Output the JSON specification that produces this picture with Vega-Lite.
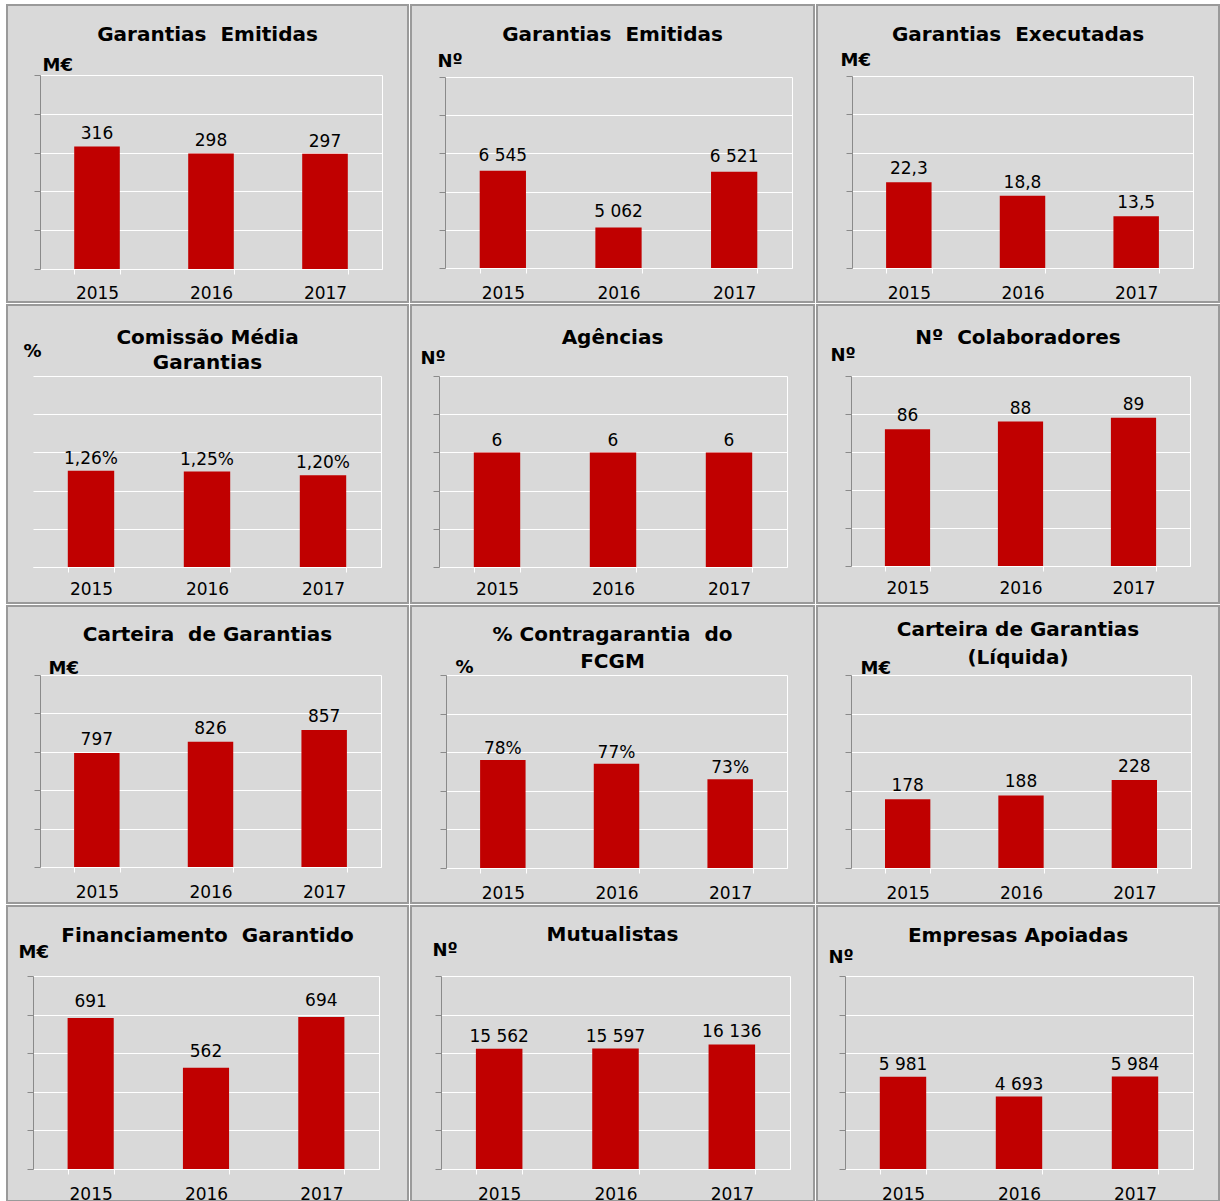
{
  "$schema": "https://vega.github.io/schema/vega-lite/v6.json",
  "background": "white",
  "padding": {"left": 6, "top": 4, "right": 0, "bottom": 0},
  "columns": 3,
  "spacing": 3,
  "bounds": "flush",
  "datasets": {
    "kpi": [
      {"panel": "P1", "year": "2015", "value": 316},
      {"panel": "P1", "year": "2016", "value": 298},
      {"panel": "P1", "year": "2017", "value": 297},
      {"panel": "P2", "year": "2015", "value": 6545},
      {"panel": "P2", "year": "2016", "value": 5062},
      {"panel": "P2", "year": "2017", "value": 6521},
      {"panel": "P3", "year": "2015", "value": 22.3},
      {"panel": "P3", "year": "2016", "value": 18.8},
      {"panel": "P3", "year": "2017", "value": 13.5},
      {"panel": "P4", "year": "2015", "value": 0.0126},
      {"panel": "P4", "year": "2016", "value": 0.0125},
      {"panel": "P4", "year": "2017", "value": 0.012},
      {"panel": "P5", "year": "2015", "value": 6},
      {"panel": "P5", "year": "2016", "value": 6},
      {"panel": "P5", "year": "2017", "value": 6},
      {"panel": "P6", "year": "2015", "value": 86},
      {"panel": "P6", "year": "2016", "value": 88},
      {"panel": "P6", "year": "2017", "value": 89},
      {"panel": "P7", "year": "2015", "value": 797},
      {"panel": "P7", "year": "2016", "value": 826},
      {"panel": "P7", "year": "2017", "value": 857},
      {"panel": "P8", "year": "2015", "value": 0.78},
      {"panel": "P8", "year": "2016", "value": 0.77},
      {"panel": "P8", "year": "2017", "value": 0.73},
      {"panel": "P9", "year": "2015", "value": 178},
      {"panel": "P9", "year": "2016", "value": 188},
      {"panel": "P9", "year": "2017", "value": 228},
      {"panel": "P10", "year": "2015", "value": 691},
      {"panel": "P10", "year": "2016", "value": 562},
      {"panel": "P10", "year": "2017", "value": 694},
      {"panel": "P11", "year": "2015", "value": 15562},
      {"panel": "P11", "year": "2016", "value": 15597},
      {"panel": "P11", "year": "2017", "value": 16136},
      {"panel": "P12", "year": "2015", "value": 5981},
      {"panel": "P12", "year": "2016", "value": 4693},
      {"panel": "P12", "year": "2017", "value": 5984}
    ]
  },
  "data": {"name": "kpi"},
  "concat": [
    {
      "width": 401, "height": 297,
      "title": {"text": "Garantias\u00a0 Emitidas", "offset": -40},
      "transform": [{"filter": "datum.panel == 'P1'"}],
      "encoding": {"x": {"field": "year", "type": "ordinal", "title": null, "scale": {"range": [33, 375], "paddingInner": 0.6, "paddingOuter": 0.3}, "axis": {"offset": -33, "labelPadding": 24}}},
      "layer": [
        {"mark": {"type": "bar"}, "encoding": {"y": {"field": "value", "type": "quantitative", "scale": {"domain": [0, 500], "range": [264, 70], "nice": false, "zero": false}, "axis": {"orient": "left", "offset": -33, "values": [0, 100, 200, 300, 400, 500], "title": "M€", "titleX": 2, "titleY": 65}}, "y2": {"datum": 0}}},
        {"mark": {"type": "text", "dy": -7}, "encoding": {"y": {"field": "value", "type": "quantitative", "axis": {"orient": "right", "offset": -26, "domainColor": "white", "ticks": false, "grid": false, "labels": false, "title": null}}, "text": {"field": "value", "format": ".0f"}}}
      ],
      "resolve": {"axis": {"y": "independent"}}
    },
    {
      "width": 403, "height": 297,
      "title": {"text": "Garantias\u00a0 Emitidas", "offset": -40},
      "transform": [{"filter": "datum.panel == 'P2'"}],
      "encoding": {"x": {"field": "year", "type": "ordinal", "title": null, "scale": {"range": [34, 381], "paddingInner": 0.6, "paddingOuter": 0.3}, "axis": {"offset": -34, "labelPadding": 25}}},
      "layer": [
        {"mark": {"type": "bar"}, "encoding": {"y": {"field": "value", "type": "quantitative", "scale": {"domain": [4000, 9000], "range": [263, 72], "nice": false, "zero": false}, "axis": {"orient": "left", "offset": -34, "values": [4000, 5000, 6000, 7000, 8000, 9000], "title": "Nº", "titleX": -8, "titleY": 61}}, "y2": {"datum": 4000}}},
        {"mark": {"type": "text", "dy": -10}, "encoding": {"y": {"field": "value", "type": "quantitative", "axis": {"orient": "right", "offset": -22, "domainColor": "white", "ticks": false, "grid": false, "labels": false, "title": null}}, "text": {"field": "value", "format": ",.0f"}}}
      ],
      "resolve": {"axis": {"y": "independent"}}
    },
    {
      "width": 402, "height": 297,
      "title": {"text": "Garantias\u00a0 Executadas", "offset": -40},
      "transform": [{"filter": "datum.panel == 'P3'"}],
      "encoding": {"x": {"field": "year", "type": "ordinal", "title": null, "scale": {"range": [35, 376], "paddingInner": 0.6, "paddingOuter": 0.3}, "axis": {"offset": -34, "labelPadding": 25}}},
      "layer": [
        {"mark": {"type": "bar"}, "encoding": {"y": {"field": "value", "type": "quantitative", "scale": {"domain": [0, 50], "range": [263, 71], "nice": false, "zero": false}, "axis": {"orient": "left", "offset": -35, "values": [0, 10, 20, 30, 40, 50], "title": "M€", "titleX": -12, "titleY": 60}}, "y2": {"datum": 0}}},
        {"mark": {"type": "text", "dy": -8}, "encoding": {"y": {"field": "value", "type": "quantitative", "axis": {"orient": "right", "offset": -26, "domainColor": "white", "ticks": false, "grid": false, "labels": false, "title": null}}, "text": {"field": "value", "format": ".1f"}}}
      ],
      "resolve": {"axis": {"y": "independent"}}
    },
    {
      "width": 401, "height": 298,
      "title": {"text": ["Comissão Média", "Garantias"], "offset": -68, "lineHeight": 25},
      "transform": [{"filter": "datum.panel == 'P4'"}],
      "encoding": {"x": {"field": "year", "type": "ordinal", "title": null, "scale": {"range": [26, 374], "paddingInner": 0.6, "paddingOuter": 0.3}, "axis": {"offset": -36, "labelPadding": 22}}},
      "layer": [
        {"mark": {"type": "bar"}, "encoding": {"y": {"field": "value", "type": "quantitative", "scale": {"domain": [0, 0.025], "range": [262, 71], "nice": false, "zero": false}, "axis": {"orient": "left", "offset": -26, "domain": false, "ticks": false, "values": [0, 0.005, 0.01, 0.015, 0.02, 0.025], "title": "%", "titleX": -10, "titleY": 51}}, "y2": {"datum": 0}}},
        {"mark": {"type": "text", "dy": -7}, "encoding": {"y": {"field": "value", "type": "quantitative", "axis": {"orient": "right", "offset": -27, "domainColor": "white", "ticks": false, "grid": false, "labels": false, "title": null}}, "text": {"field": "value", "format": ".2%"}}}
      ],
      "resolve": {"axis": {"y": "independent"}}
    },
    {
      "width": 403, "height": 298,
      "title": {"text": "Agências", "offset": -43},
      "transform": [{"filter": "datum.panel == 'P5'"}],
      "encoding": {"x": {"field": "year", "type": "ordinal", "title": null, "scale": {"range": [28, 376], "paddingInner": 0.6, "paddingOuter": 0.3}, "axis": {"offset": -36, "labelPadding": 22}}},
      "layer": [
        {"mark": {"type": "bar"}, "encoding": {"y": {"field": "value", "type": "quantitative", "scale": {"domain": [0, 10], "range": [262, 71], "nice": false, "zero": false}, "axis": {"orient": "left", "offset": -28, "values": [0, 2, 4, 6, 8, 10], "title": "Nº", "titleX": -19, "titleY": 58}}, "y2": {"datum": 0}}},
        {"mark": {"type": "text", "dy": -6}, "encoding": {"y": {"field": "value", "type": "quantitative", "axis": {"orient": "right", "offset": -27, "domainColor": "white", "ticks": false, "grid": false, "labels": false, "title": null}}, "text": {"field": "value", "format": ".0f"}}}
      ],
      "resolve": {"axis": {"y": "independent"}}
    },
    {
      "width": 402, "height": 298,
      "title": {"text": "Nº\u00a0 Colaboradores", "offset": -43},
      "transform": [{"filter": "datum.panel == 'P6'"}],
      "encoding": {"x": {"field": "year", "type": "ordinal", "title": null, "scale": {"range": [34, 373], "paddingInner": 0.6, "paddingOuter": 0.3}, "axis": {"offset": -37, "labelPadding": 22}}},
      "layer": [
        {"mark": {"type": "bar"}, "encoding": {"y": {"field": "value", "type": "quantitative", "scale": {"domain": [50, 100], "range": [261, 71], "nice": false, "zero": false}, "axis": {"orient": "left", "offset": -34, "values": [50, 60, 70, 80, 90, 100], "title": "Nº", "titleX": -21, "titleY": 55}}, "y2": {"datum": 50}}},
        {"mark": {"type": "text", "dy": -8}, "encoding": {"y": {"field": "value", "type": "quantitative", "axis": {"orient": "right", "offset": -29, "domainColor": "white", "ticks": false, "grid": false, "labels": false, "title": null}}, "text": {"field": "value", "format": ".0f"}}}
      ],
      "resolve": {"axis": {"y": "independent"}}
    },
    {
      "width": 401, "height": 297,
      "title": {"text": "Carteira\u00a0 de Garantias", "offset": -39},
      "transform": [{"filter": "datum.panel == 'P7'"}],
      "encoding": {"x": {"field": "year", "type": "ordinal", "title": null, "scale": {"range": [33, 374], "paddingInner": 0.6, "paddingOuter": 0.3}, "axis": {"offset": -36, "labelPadding": 25}}},
      "layer": [
        {"mark": {"type": "bar"}, "encoding": {"y": {"field": "value", "type": "quantitative", "scale": {"domain": [500, 1000], "range": [261, 69], "nice": false, "zero": false}, "axis": {"orient": "left", "offset": -33, "values": [500, 600, 700, 800, 900, 1000], "title": "M€", "titleX": 8, "titleY": 67}}, "y2": {"datum": 500}}},
        {"mark": {"type": "text", "dy": -8}, "encoding": {"y": {"field": "value", "type": "quantitative", "axis": {"orient": "right", "offset": -27, "domainColor": "white", "ticks": false, "grid": false, "labels": false, "title": null}}, "text": {"field": "value", "format": ".0f"}}}
      ],
      "resolve": {"axis": {"y": "independent"}}
    },
    {
      "width": 403, "height": 297,
      "title": {"text": ["% Contragarantia\u00a0 do", "FCGM"], "offset": -66, "lineHeight": 27},
      "transform": [{"filter": "datum.panel == 'P8'"}],
      "encoding": {"x": {"field": "year", "type": "ordinal", "title": null, "scale": {"range": [35, 376], "paddingInner": 0.6, "paddingOuter": 0.3}, "axis": {"offset": -35, "labelPadding": 25}}},
      "layer": [
        {"mark": {"type": "bar"}, "encoding": {"y": {"field": "value", "type": "quantitative", "scale": {"domain": [0.5, 1], "range": [262, 69], "nice": false, "zero": false}, "axis": {"orient": "left", "offset": -35, "values": [0.5, 0.6, 0.7, 0.8, 0.9, 1], "title": "%", "titleX": 9, "titleY": 66}}, "y2": {"datum": 0.5}}},
        {"mark": {"type": "text", "dy": -6}, "encoding": {"y": {"field": "value", "type": "quantitative", "axis": {"orient": "right", "offset": -27, "domainColor": "white", "ticks": false, "grid": false, "labels": false, "title": null}}, "text": {"field": "value", "format": ".0%"}}}
      ],
      "resolve": {"axis": {"y": "independent"}}
    },
    {
      "width": 402, "height": 297,
      "title": {"text": ["Carteira de Garantias", "(Líquida)"], "offset": -62, "lineHeight": 28},
      "transform": [{"filter": "datum.panel == 'P9'"}],
      "encoding": {"x": {"field": "year", "type": "ordinal", "title": null, "scale": {"range": [34, 374], "paddingInner": 0.6, "paddingOuter": 0.3}, "axis": {"offset": -35, "labelPadding": 25}}},
      "layer": [
        {"mark": {"type": "bar"}, "encoding": {"y": {"field": "value", "type": "quantitative", "scale": {"domain": [0, 500], "range": [262, 69], "nice": false, "zero": false}, "axis": {"orient": "left", "offset": -34, "values": [0, 100, 200, 300, 400, 500], "title": "M€", "titleX": 9, "titleY": 67}}, "y2": {"datum": 0}}},
        {"mark": {"type": "text", "dy": -8}, "encoding": {"y": {"field": "value", "type": "quantitative", "axis": {"orient": "right", "offset": -28, "domainColor": "white", "ticks": false, "grid": false, "labels": false, "title": null}}, "text": {"field": "value", "format": ".0f"}}}
      ],
      "resolve": {"axis": {"y": "independent"}}
    },
    {
      "width": 401, "height": 295,
      "title": {"text": "Financiamento\u00a0 Garantido", "offset": -40},
      "transform": [{"filter": "datum.panel == 'P10'"}],
      "encoding": {"x": {"field": "year", "type": "ordinal", "title": null, "scale": {"range": [26, 372], "paddingInner": 0.6, "paddingOuter": 0.3}, "axis": {"offset": -32, "labelPadding": 25}}},
      "layer": [
        {"mark": {"type": "bar"}, "encoding": {"y": {"field": "value", "type": "quantitative", "scale": {"domain": [300, 800], "range": [263, 70], "nice": false, "zero": false}, "axis": {"orient": "left", "offset": -26, "values": [300, 400, 500, 600, 700, 800], "title": "M€", "titleX": -15, "titleY": 51}}, "y2": {"datum": 300}}},
        {"mark": {"type": "text", "dy": -11}, "encoding": {"y": {"field": "value", "type": "quantitative", "axis": {"orient": "right", "offset": -29, "domainColor": "white", "ticks": false, "grid": false, "labels": false, "title": null}}, "text": {"field": "value", "format": ".0f"}}}
      ],
      "resolve": {"axis": {"y": "independent"}}
    },
    {
      "width": 403, "height": 295,
      "title": {"text": "Mutualistas", "offset": -39},
      "transform": [{"filter": "datum.panel == 'P11'"}],
      "encoding": {"x": {"field": "year", "type": "ordinal", "title": null, "scale": {"range": [30, 379], "paddingInner": 0.6, "paddingOuter": 0.3}, "axis": {"offset": -32, "labelPadding": 25}}},
      "layer": [
        {"mark": {"type": "bar"}, "encoding": {"y": {"field": "value", "type": "quantitative", "scale": {"domain": [0, 25000], "range": [263, 70], "nice": false, "zero": false}, "axis": {"orient": "left", "offset": -30, "values": [0, 5000, 10000, 15000, 20000, 25000], "title": "Nº", "titleX": -9, "titleY": 49}}, "y2": {"datum": 0}}},
        {"mark": {"type": "text", "dy": -7}, "encoding": {"y": {"field": "value", "type": "quantitative", "axis": {"orient": "right", "offset": -24, "domainColor": "white", "ticks": false, "grid": false, "labels": false, "title": null}}, "text": {"field": "value", "format": ",.0f"}}}
      ],
      "resolve": {"axis": {"y": "independent"}}
    },
    {
      "width": 402, "height": 295,
      "title": {"text": "Empresas Apoiadas", "offset": -40},
      "transform": [{"filter": "datum.panel == 'P12'"}],
      "encoding": {"x": {"field": "year", "type": "ordinal", "title": null, "scale": {"range": [28, 376], "paddingInner": 0.6, "paddingOuter": 0.3}, "axis": {"offset": -32, "labelPadding": 25}}},
      "layer": [
        {"mark": {"type": "bar"}, "encoding": {"y": {"field": "value", "type": "quantitative", "scale": {"domain": [0, 12500], "range": [263, 70], "nice": false, "zero": false}, "axis": {"orient": "left", "offset": -28, "values": [0, 2500, 5000, 7500, 10000, 12500], "title": "Nº", "titleX": -17, "titleY": 56}}, "y2": {"datum": 0}}},
        {"mark": {"type": "text", "dy": -7}, "encoding": {"y": {"field": "value", "type": "quantitative", "axis": {"orient": "right", "offset": -26, "domainColor": "white", "ticks": false, "grid": false, "labels": false, "title": null}}, "text": {"field": "value", "format": ",.0f"}}}
      ],
      "resolve": {"axis": {"y": "independent"}}
    }
  ],
  "config": {
    "font": "DejaVu Sans",
    "locale": {"number": {"decimal": ",", "thousands": " ", "grouping": [3], "currency": ["", " €"]}},
    "view": {"fill": "#d9d9d9", "stroke": "#9a9a9a", "strokeWidth": 2},
    "bar": {"color": "#c00000"},
    "text": {"fontSize": 17, "color": "black", "baseline": "alphabetic", "font": "DejaVu Sans"},
    "title": {"fontSize": 20, "fontWeight": "bold", "color": "black", "anchor": "middle", "frame": "group", "baseline": "alphabetic", "lineHeight": 25, "font": "DejaVu Sans"},
    "axisX": {"domainColor": "white", "domainWidth": 1, "tickColor": "white", "tickSize": 5, "tickBand": "extent", "labelAngle": 0, "labelFontSize": 17, "labelColor": "black", "labelBaseline": "alphabetic", "labelFont": "DejaVu Sans", "grid": false},
    "axisY": {"grid": true, "gridColor": "white", "gridOpacity": 1, "gridWidth": 1, "domainColor": "#8a8a8a", "tickColor": "#8a8a8a", "tickSize": 6, "labels": false, "titleAngle": 0, "titleAlign": "left", "titleBaseline": "alphabetic", "titleFontSize": 18, "titleFontWeight": "bold", "titleColor": "black", "titleFont": "DejaVu Sans", "titlePadding": 0}
  }
}
